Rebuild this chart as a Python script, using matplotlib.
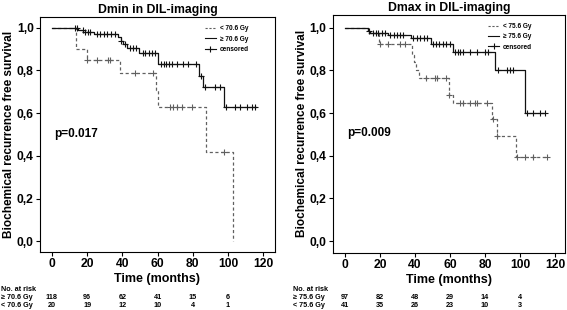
import numpy as np
import matplotlib
matplotlib.use("Agg")
import matplotlib.pyplot as plt
from matplotlib.lines import Line2D
from matplotlib.ticker import FuncFormatter
import matplotlib.transforms as mtransforms

plt.rcParams['font.family'] = ['Liberation Sans', 'DejaVu Sans']
plt.rcParams['font.weight'] = 'bold'

# --- Dmin panel data ---
dmin_hi_t = [0, 14.8, 17.8, 23.9, 37.5, 39.0, 40.5, 42.5, 49.5, 60.5, 83.7, 86.0, 98.0]
dmin_hi_s = [1.0, 0.99, 0.981, 0.972, 0.955, 0.94, 0.925, 0.905, 0.881, 0.828, 0.775, 0.721, 0.63]
dmin_hi_end = 116
dmin_hi_cens = [13, 14, 17.5, 19, 20.5, 21.5, 25.5, 27.5, 29.5, 31.5, 33.5, 36, 39.5, 41.5,
                44.5, 46, 48, 51.5, 53, 55, 57, 58.5, 62, 63.5, 65, 66.5, 68, 70.8, 74.6,
                77, 82, 84.5, 87, 92.6, 95.5, 99, 104, 107, 110.6, 113.5, 115.3]

dmin_lo_t = [0, 13.6, 19.7, 38.6, 59.0, 60.2, 87.5, 102.6]
dmin_lo_s = [1.0, 0.90, 0.847, 0.787, 0.709, 0.63, 0.42, 0.0]
dmin_lo_end = 102.6
dmin_lo_cens = [20, 25.5, 32, 33, 47, 57.5, 67, 69, 71, 73.7, 79.5, 97.7]

dmin_risk_hi = [118, 96, 62, 41, 15, 6]
dmin_risk_lo = [20, 19, 12, 10, 4, 1]

# --- Dmax panel data ---
dmax_hi_t = [0, 13.1, 14.5, 24.6, 37.7, 49.3, 61.9, 85.7, 102.9]
dmax_hi_s = [1.0, 0.985, 0.977, 0.965, 0.95, 0.925, 0.888, 0.80, 0.60]
dmax_hi_end = 114.3
dmax_hi_cens = [14, 16, 17.5, 19, 21, 23, 26, 28, 30, 31.5, 33, 39, 41, 43, 45, 47, 50.5,
                52, 54, 56, 58, 60, 63, 64.5, 66, 67.6, 71.4, 75.3, 80, 82, 87.6, 92.4,
                94.3, 96.2, 103.8, 107.6, 111.4, 114.3]

dmax_lo_t = [0, 13.1, 19.6, 38.2, 39.5, 40.8, 42.5, 59.6, 61.5, 83.8, 87.0, 97.7]
dmax_lo_s = [1.0, 0.975, 0.923, 0.87, 0.84, 0.80, 0.764, 0.685, 0.646, 0.571, 0.49, 0.393]
dmax_lo_end = 115.6
dmax_lo_cens = [19.8, 24.6, 31.2, 34.1, 46.5, 51.3, 52.6, 57.9, 59.6, 65.7, 67.6, 71.4,
                74.3, 75.3, 81, 84.4, 87, 98, 102.9, 107.6, 115.6]

dmax_risk_hi = [97, 82, 48, 29, 14, 4]
dmax_risk_lo = [41, 35, 26, 23, 10, 3]

risk_times = [0, 20, 40, 60, 80, 100]

C_HI = '#111111'
C_LO = '#606060'


def surv_at(times, surv, x):
    idx = np.searchsorted(times, x, side='right') - 1
    return np.array(surv)[idx]


def km_curve(ax, times, surv, end, cens, color, ls):
    tt = list(times) + [end]
    ss = list(surv) + [surv[-1]]
    ax.step(tt, ss, where='post', color=color, ls=ls, lw=0.9,
            dashes=(2.5, 2) if ls == '--' else (None, None))
    cy = surv_at(times, surv, np.array(cens))
    ax.plot(cens, cy, ls='none', marker='+', ms=4.5, mew=0.8, color=color)


def panel(ax, title, hi, lo, label_hi, label_lo, pval, risk_hi, risk_lo, xlim, ylim, row_x, leg_x):
    km_curve(ax, *lo, C_LO, '--')
    km_curve(ax, *hi, C_HI, '-')
    ax.set_xlim(*xlim)
    ax.set_ylim(*ylim)
    ax.set_xticks([0, 20, 40, 60, 80, 100, 120])
    ax.set_yticks([0, 0.2, 0.4, 0.6, 0.8, 1.0])
    ax.yaxis.set_major_formatter(FuncFormatter(lambda v, p: f"{v:.1f}".replace('.', ',')))
    ax.tick_params(direction='out', length=3, width=0.8, labelsize=8.7, pad=1.5)
    for lab in ax.get_xticklabels() + ax.get_yticklabels():
        lab.set_fontweight('bold')
    for sp in ax.spines.values():
        sp.set_linewidth(0.8)
    ax.set_title(title, fontsize=8.8, fontweight='bold', pad=3)
    ax.set_xlabel('Time (months)', fontsize=9, fontweight='bold', labelpad=2)
    ax.set_ylabel('Biochemical recurrence free survival', fontsize=8.5, fontweight='bold', labelpad=1)
    ax.text(1.5, 0.49, pval, fontsize=8.5, fontweight='bold')

    handles = [Line2D([], [], color=C_LO, ls='--', lw=0.8, dashes=(2, 1.5)),
               Line2D([], [], color=C_HI, ls='-', lw=0.8),
               Line2D([], [], color=C_HI, ls='-', lw=0.8, marker='+', ms=4, mew=0.8)]
    ax.legend(handles, [label_lo, label_hi, 'censored'], loc='upper right', frameon=False,
              prop={'size': 4.7, 'weight': 'bold'}, handlelength=1.6, handletextpad=0.6,
              labelspacing=0.5, bbox_to_anchor=(leg_x, 0.99))

    trans = mtransforms.blended_transform_factory(ax.transData, fig.transFigure)
    fig.text(row_x, 0.061, 'No. at risk', fontsize=5.2, fontweight='bold')
    fig.text(row_x, 0.036, label_hi, fontsize=5.2, fontweight='bold')
    fig.text(row_x, 0.011, label_lo, fontsize=5.2, fontweight='bold')
    for t, a, b in zip(risk_times, risk_hi, risk_lo):
        ax.text(t, 0.036, str(a), transform=trans, fontsize=5.2, fontweight='bold', ha='center')
        ax.text(t, 0.011, str(b), transform=trans, fontsize=5.2, fontweight='bold', ha='center')


fig = plt.figure(figsize=(5.67, 3.10), dpi=100)
ax1 = fig.add_axes([0.0705, 0.187, 0.4145, 0.758])
ax2 = fig.add_axes([0.587, 0.184, 0.4095, 0.768])

panel(ax1, 'Dmin in DIL-imaging',
      (dmin_hi_t, dmin_hi_s, dmin_hi_end, dmin_hi_cens),
      (dmin_lo_t, dmin_lo_s, dmin_lo_end, dmin_lo_cens),
      '\u2265 70.6 Gy', '< 70.6 Gy', 'p=0.017', dmin_risk_hi, dmin_risk_lo,
      (-6.8, 126.7), (-0.05, 1.05), 0.002, 0.913)
panel(ax2, 'Dmax in DIL-imaging',
      (dmax_hi_t, dmax_hi_s, dmax_hi_end, dmax_hi_cens),
      (dmax_lo_t, dmax_lo_s, dmax_lo_end, dmax_lo_cens),
      '\u2265 75.6 Gy', '< 75.6 Gy', 'p=0.009', dmax_risk_hi, dmax_risk_lo,
      (-6.9, 125.7), (-0.056, 1.06), 0.517, 0.883)

fig.savefig('out.png', dpi=100)
